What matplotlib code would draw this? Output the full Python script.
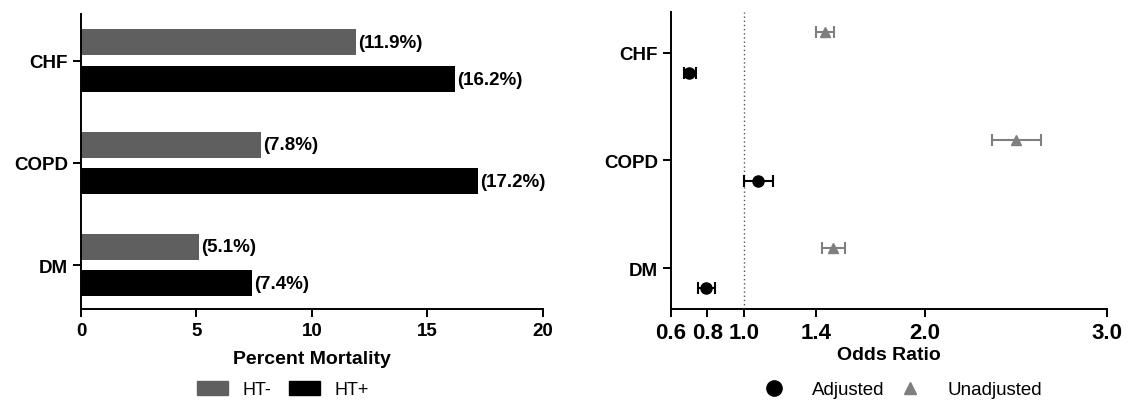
import numpy as np
import matplotlib
matplotlib.use("Agg")
import matplotlib.pyplot as plt
from matplotlib.patches import Patch
from matplotlib.lines import Line2D

plt.rcParams["font.family"] = ["Liberation Sans", "DejaVu Sans"]
plt.rcParams["font.weight"] = "bold"

# data
conditions = ["CHF", "COPD", "DM"]
ht_neg = [11.9, 7.8, 5.1]
ht_pos = [16.2, 17.2, 7.4]

or_unadj = [1.45, 2.50, 1.49]
or_unadj_lo = [1.40, 2.37, 1.43]
or_unadj_hi = [1.50, 2.64, 1.56]
or_adj = [0.70, 1.08, 0.79]
or_adj_lo = [0.67, 1.00, 0.75]
or_adj_hi = [0.74, 1.16, 0.84]

x_ticks_or = [0.6, 0.8, 1.0, 1.4, 2.0, 3.0]

fig = plt.figure(figsize=(11.47, 4.02), dpi=100)

# left panel: mortality bars
ax1 = fig.add_axes([0.0706, 0.229, 0.4028, 0.734])
y = np.arange(len(conditions))
off = 0.18
h = 0.255
b1 = ax1.barh(y - off, ht_neg, height=h, color="#5f5f5f", label="HT-")
b2 = ax1.barh(y + off, ht_pos, height=h, color="black", label="HT+")
for bars, vals in [(b1, ht_neg), (b2, ht_pos)]:
    for b, v in zip(bars, vals):
        ax1.text(v + 0.1, b.get_y() + b.get_height() / 2, "(%.1f%%)" % v,
                 va="center", ha="left", fontsize=13.5, fontweight="bold")
ax1.set_xlim(0, 20)
ax1.set_ylim(2.43, -0.46)
ax1.set_yticks(y)
ax1.set_yticklabels(conditions)
ax1.set_xticks([0, 5, 10, 15, 20])
ax1.set_xlabel("Percent Mortality", fontsize=14, fontweight="bold", labelpad=8)
for s in ["top", "right"]:
    ax1.spines[s].set_visible(False)
for s in ["left", "bottom"]:
    ax1.spines[s].set_linewidth(1.4)
ax1.tick_params(axis="both", labelsize=13.5, width=1.4, length=6)
fig.legend(handles=[Patch(color="#5f5f5f", label="HT-"), Patch(color="black", label="HT+")],
           loc="center", bbox_to_anchor=(283 / 1147, 0.028), ncol=2, frameon=False,
           prop={"weight": "normal", "size": 13}, handlelength=1.7, handleheight=0.75,
           columnspacing=1.0, borderaxespad=0, borderpad=0)

# right panel: odds ratios
ax2 = fig.add_axes([0.585, 0.229, 0.380, 0.739])
off2 = 0.19
ax2.axvline(1.0, color="#555555", linestyle=(0, (1, 2)), linewidth=1)
ua = np.array(or_unadj)
ax2.errorbar(ua, y - off2,
             xerr=[ua - np.array(or_unadj_lo), np.array(or_unadj_hi) - ua],
             fmt="^", color="#7f7f7f", markersize=7, capsize=4, elinewidth=1.5,
             capthick=1.5)
aa = np.array(or_adj)
ax2.errorbar(aa, y + off2,
             xerr=[aa - np.array(or_adj_lo), np.array(or_adj_hi) - aa],
             fmt="o", color="black", markersize=8, capsize=4, elinewidth=1.5,
             capthick=1.5)
ax2.set_xlim(0.6, 3.0)
ax2.set_ylim(2.38, -0.38)
ax2.set_yticks(y)
ax2.set_yticklabels(conditions)
ax2.set_xticks(x_ticks_or)
ax2.set_xticklabels(["%.1f" % t for t in x_ticks_or])
ax2.set_xlabel("Odds Ratio", fontsize=14, fontweight="bold", labelpad=2)
for s in ["top", "right"]:
    ax2.spines[s].set_visible(False)
for s in ["left", "bottom"]:
    ax2.spines[s].set_linewidth(1.4)
ax2.tick_params(axis="y", labelsize=13.5, width=1.4, length=6)
ax2.tick_params(axis="x", labelsize=16, width=1.4, length=6)
fig.legend(handles=[Line2D([], [], marker="o", color="black", linestyle="none", markersize=11, label="Adjusted"),
                    Line2D([], [], marker="^", color="#7f7f7f", linestyle="none", markersize=9, label="Unadjusted")],
           loc="center", bbox_to_anchor=(899 / 1147, 0.028), ncol=2, frameon=False,
           prop={"weight": "normal", "size": 13.5}, handletextpad=1.0, columnspacing=0.4,
           borderaxespad=0, borderpad=0)

fig.savefig("out.png", dpi=100)
